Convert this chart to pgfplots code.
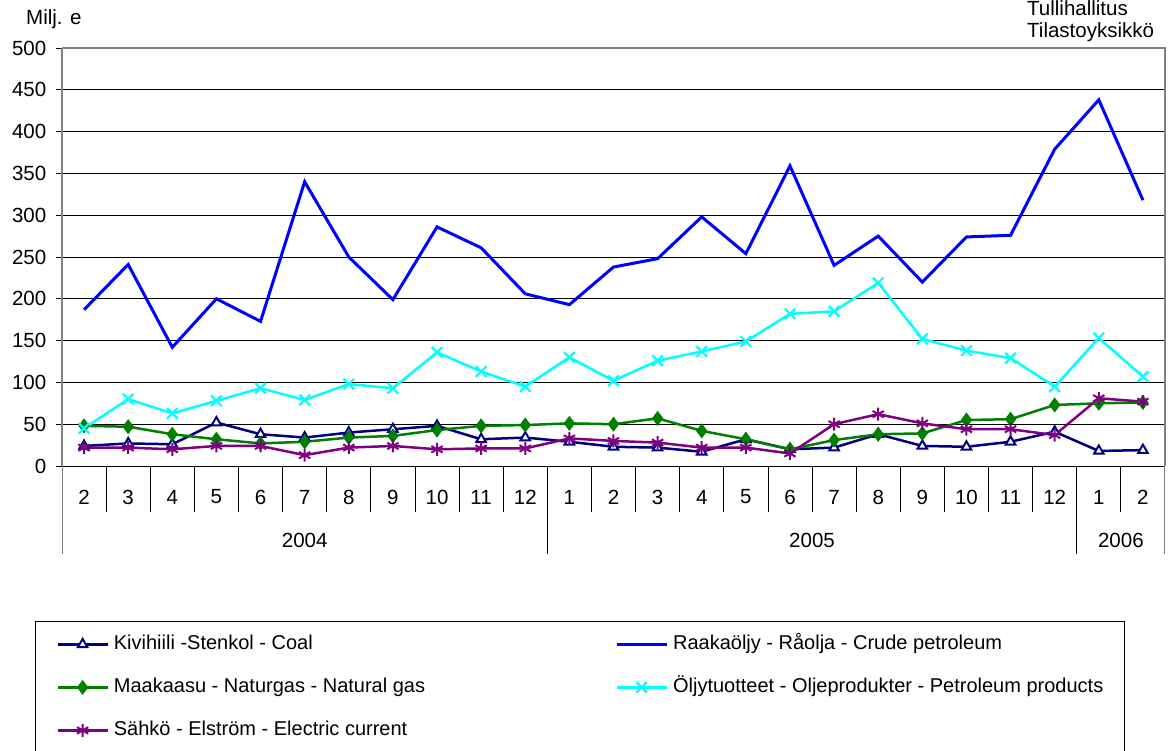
\documentclass[border=0pt]{standalone}
\usepackage{fontspec}
\setmainfont{Liberation Sans}
\usepackage{pgfplots}
\pgfplotsset{compat=1.18}

\definecolor{coal}{RGB}{0,0,128}
\definecolor{crude}{RGB}{0,0,255}
\definecolor{gas}{RGB}{0,128,0}
\definecolor{prod}{RGB}{0,255,255}
\definecolor{elec}{RGB}{128,0,128}
\definecolor{axgray}{RGB}{128,128,128}

% months 2/2004 .. 2/2006 at x = 0..24
\pgfplotstableread{
x coal crude gas prod elec
0  24 187 48  45 22
1  27 241 47  80 22
2  26 142 38  63 20
3  52 200 32  78 24
4  38 173 27  93 24
5  34 340 29  79 13
6  40 250 34  98 22
7  44 199 36  93 24
8  48 286 43 136 20
9  32 261 48 113 21
10 34 206 49  95 21
11 29 193 51 130 33
12 23 238 50 102 30
13 22 248 57 126 28
14 17 298 42 137 22
15 32 254 32 149 22
16 20 359 20 182 15
17 22 240 31 185 50
18 38 275 38 219 62
19 24 220 39 152 51
20 23 274 55 138 44
21 29 276 56 129 44
22 41 379 73  95 37
23 18 438 75 153 81
24 19 318 76 107 77
}\datatable

\newcommand{\chfont}{\fontsize{20.5}{24}\selectfont}
\newcommand{\lgfont}{\fontsize{20}{24}\selectfont}

\begin{document}
\chfont
\begin{tikzpicture}
\begin{axis}[
  at={(62pt,-466pt)}, anchor=south west,
  scale only axis, width=1103pt, height=418pt,
  xmin=-0.5, xmax=24.5, ymin=0, ymax=500,
  clip=false,
  axis x line*=bottom, axis y line*=left,
  x axis line style={black, line width=0.9pt},
  y axis line style={axgray, line width=2pt},
  ytick={0,50,...,500},
  ymajorgrids,
  major grid style={black, line width=0.7pt},
  tick align=outside,
  major tick length=6pt,
  ytick style={black, line width=0.8pt},
  xtick={0,...,24},
  xticklabels={2,3,4,5,6,7,8,9,10,11,12,1,2,3,4,5,6,7,8,9,10,11,12,1,2},
  xtick style={draw=none},
  tick label style={font=\chfont},
  /pgf/number format/assume math mode=true,
  yticklabel style={anchor=east, inner sep=0pt, xshift=-9.5pt},
  xticklabel style={anchor=center, inner sep=0pt, yshift=-25pt},
  legend columns=2,
  legend cell align=left,
  legend style={at={(-0.0245,-0.3708)}, anchor=north west,
    draw=black, line width=0.8pt, inner xsep=21pt, inner ysep=13pt,
    font=\lgfont,
    nodes={inner sep=0pt, text height=15pt, text depth=5pt},
    /tikz/row sep=23pt,
    /tikz/every odd column/.append style={column sep=5pt},
    /tikz/every even column/.append style={column sep=190pt}},
  legend image code/.code={\draw[mark repeat=2,mark phase=2]
    plot coordinates {(0pt,0pt) (25pt,0pt) (50pt,0pt)};},
]
\addplot[coal, line width=2.5pt, mark=triangle*, mark size=5.5pt,
  mark options={fill=white, line width=2pt}] table[x=x,y=coal] {\datatable};
\addlegendentry{Kivihiili -Stenkol - Coal}
\addplot[crude, line width=3pt, no markers] table[x=x,y=crude] {\datatable};
\addlegendentry{Raakaöljy - Råolja - Crude petroleum}
\addplot[gas, line width=2.5pt, mark=diamond*, mark size=5.5pt,
  mark options={fill=gas}] table[x=x,y=gas] {\datatable};
\addlegendentry{Maakaasu - Naturgas - Natural gas}
\addplot[prod, line width=2.5pt, mark=x, mark size=7.5pt,
  mark options={line width=2.2pt}] table[x=x,y=prod] {\datatable};
\addlegendentry{Öljytuotteet - Oljeprodukter - Petroleum products}
\addplot[elec, line width=2.5pt, mark=asterisk, mark size=6.5pt,
  mark options={line width=2pt}] table[x=x,y=elec] {\datatable};
\addlegendentry{Sähkö - Elström - Electric current}

% plot area border (top, right)
\draw[axgray, line width=1.8pt] (rel axis cs:0,1) -- (rel axis cs:1,1) -- (rel axis cs:1,0);
% category separators
\pgfplotsinvokeforeach{0,...,23}{
  \draw[black, line width=0.8pt] (axis cs:#1+0.5,0) -- ++(0pt,-46pt);
}
% year separators
\draw[axgray, line width=1pt] (axis cs:-0.5,0) -- ++(0pt,-88pt);
\draw[black, line width=0.8pt] (axis cs:10.5,0) -- ++(0pt,-88pt);
\draw[black, line width=0.8pt] (axis cs:22.5,0) -- ++(0pt,-88pt);
\draw[axgray, line width=1pt] (axis cs:24.5,0) -- ++(0pt,-88pt);
% years
\node[font=\chfont] at ([yshift=-74pt]axis cs:5,0) {2004};
\node[font=\chfont] at ([yshift=-74pt]axis cs:16.5,0) {2005};
\node[font=\chfont] at ([yshift=-74pt]axis cs:23.5,0) {2006};
\end{axis}
\node[anchor=base west, font=\chfont, inner sep=0pt] at (26pt,-25pt) {Milj. e};
\node[anchor=base west, font=\chfont, inner sep=0pt] at (1027pt,-16pt) {Tullihallitus};
\node[anchor=base west, font=\chfont, inner sep=0pt] at (1027pt,-38pt) {Tilastoyksikkö};
\pgfresetboundingbox
\path[use as bounding box] (0pt,0pt) rectangle (1170pt,-751pt);
\end{tikzpicture}
\end{document}
